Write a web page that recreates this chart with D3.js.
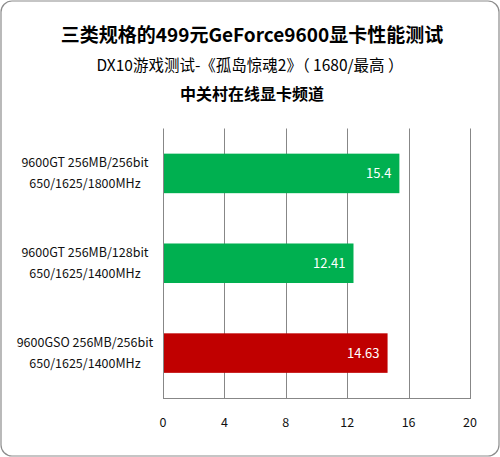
<!DOCTYPE html>
<html>
<head>
<meta charset="utf-8">
<script src="https://cdn.jsdelivr.net/npm/d3@7"></script>
<style>
  body { margin: 0; background: #fff; }
  svg { display: block; font-family: "Noto Sans CJK SC", "DejaVu Sans", sans-serif; }
</style>
</head>
<body>
<div class="chart"></div>
<script>
// chart data
const cards = ["9600GT 256MB/256bit", "9600GT 256MB/128bit", "9600GSO 256MB/256bit"];
const clocks = ["650/1625/1800MHz", "650/1625/1400MHz", "650/1625/1400MHz"];
const fps = [15.4, 12.41, 14.63];
const barColors = ["#00b050", "#00b050", "#c00000"];
const xTicks = [0, 4, 8, 12, 16, 20];

const width = 500, height = 457;
const margin = { top: 128.5, right: 30, bottom: 59, left: 163 };

const svg = d3.select(".chart").append("svg")
    .attr("width", width)
    .attr("height", height);

svg.append("rect")
    .attr("x", 1).attr("y", 1)
    .attr("width", width - 2).attr("height", height - 2)
    .attr("rx", 11).attr("ry", 11)
    .attr("fill", "#fff")
    .attr("stroke", "#8c8c8c")
    .attr("stroke-width", 1.2);

// titles
svg.append("text")
    .attr("x", 252).attr("y", 42)
    .attr("text-anchor", "middle")
    .attr("font-size", 19).attr("font-weight", "bold")
    .attr("fill", "#000")
    .text("三类规格的499元GeForce9600显卡性能测试");

svg.append("text")
    .attr("x", 250).attr("y", 71)
    .attr("text-anchor", "middle")
    .attr("font-size", 15.5)
    .attr("fill", "#000")
    .text("DX10游戏测试-《孤岛惊魂2》（ 1680/最高 ）");

svg.append("text")
    .attr("x", 252).attr("y", 100)
    .attr("text-anchor", "middle")
    .attr("font-size", 16).attr("font-weight", "bold")
    .attr("fill", "#000")
    .text("中关村在线显卡频道");

const x = d3.scaleLinear()
    .domain([0, 20])
    .range([margin.left, width - margin.right]);

const y = d3.scaleBand()
    .domain(d3.range(cards.length))
    .range([margin.top, height - margin.bottom])
    .paddingInner(0.56)
    .paddingOuter(0.28);

// grid
const grid = svg.append("g")
    .attr("stroke", "#878787")
    .attr("stroke-width", 1);

grid.selectAll("line")
    .data(xTicks)
    .join("line")
    .attr("x1", d => Math.round(x(d)) + 0.5)
    .attr("x2", d => Math.round(x(d)) + 0.5)
    .attr("y1", margin.top)
    .attr("y2", height - margin.bottom);

grid.append("line")
    .attr("x1", x(0)).attr("x2", x(20) + 1)
    .attr("y1", height - margin.bottom + 0.5)
    .attr("y2", height - margin.bottom + 0.5);

// bars
svg.append("g").selectAll("rect")
    .data(fps)
    .join("rect")
    .attr("x", x(0) + 1)
    .attr("y", (d, i) => y(i))
    .attr("width", d => x(d) - x(0) - 1)
    .attr("height", y.bandwidth())
    .attr("fill", (d, i) => barColors[i]);

svg.append("g").selectAll("text")
    .data(fps)
    .join("text")
    .attr("x", d => x(d) - 8)
    .attr("y", (d, i) => y(i) + y.bandwidth() / 2 + 5)
    .attr("text-anchor", "end")
    .attr("font-size", 13)
    .attr("fill", "#fff")
    .text(d => d);

// category labels
const labels = svg.append("g")
    .attr("font-size", 12.5)
    .attr("fill", "#111")
    .attr("text-anchor", "middle");

cards.forEach((c, i) => {
    const cy = y(i) + y.bandwidth() / 2;
    labels.append("text").attr("x", 85).attr("y", cy - 6).text(c);
    labels.append("text").attr("x", 85).attr("y", cy + 15).text(clocks[i]);
});

// x axis labels
svg.append("g")
    .attr("font-size", 12.5)
    .attr("fill", "#111")
    .attr("text-anchor", "middle")
    .selectAll("text")
    .data(xTicks)
    .join("text")
    .attr("x", d => x(d))
    .attr("y", 427)
    .text(d => d);
</script>
</body>
</html>
